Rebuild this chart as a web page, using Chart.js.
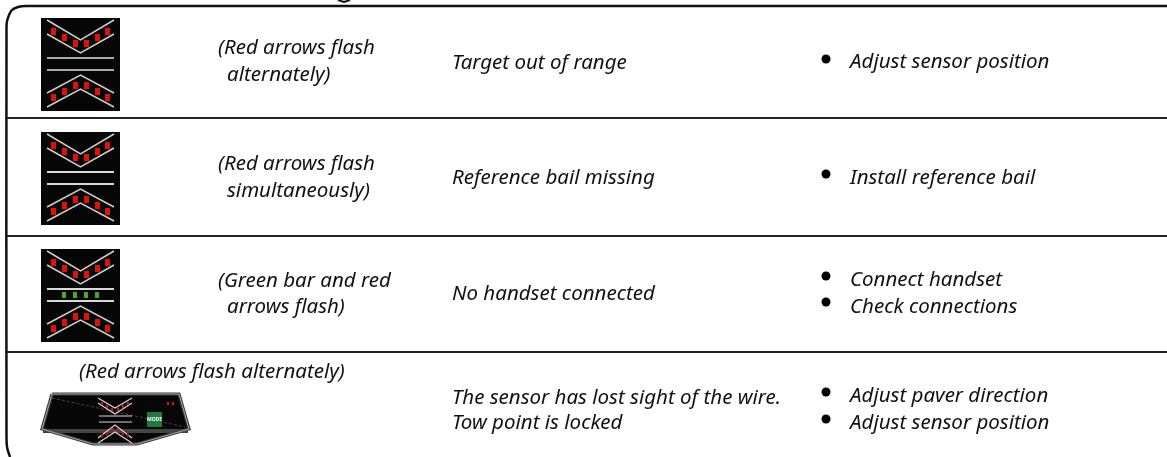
<!DOCTYPE html>
<html>
<head>
<meta charset="utf-8">
<title>Troubleshooting table</title>
<script src="https://cdn.jsdelivr.net/npm/chart.js@4"></script>
<style>
  html, body { margin: 0; padding: 0; background: #fff; overflow: hidden; }
  canvas { display: block; }
</style>
</head>
<body>
<canvas id="table" width="1167" height="457"></canvas>
<script>

const iconTops = [18, 132, 249];
const iconX = [41, 120];
const iconHeight = 93;
const chevronX = [47, 80.5, 114];
const upperOuterY = [2, 22, 2];
const upperInnerY = [16, 35, 16];
const barsX = [47, 114];
const barsY = [40, 52];
const lowerInnerY = [75, 57, 75];
const lowerOuterY = [89, 71, 89];
const arrowX = [53, 64, 75, 86, 97, 107.5];
const upperArrowY = [13, 19, 25, 25, 19, 13];
const lowerArrowY = [79, 73, 67, 67, 73, 79];
const greenX = [64, 75, 86, 97];
const greenY = 46;

const frameX = [10, 7.2, 6.5, 6.5, 7.3, 11.5, 18, 26, 1167];
const frameY = [457, 448, 438, 27, 20, 10.5, 7, 6, 6];
const titleTailX = [338, 344, 350];
const titleTailY = [0, 2, 0];
const ruleY = [118, 236, 352];

const bodyX = [52, 179, 189, 137, 93, 42, 52];
const bodyY = [394, 394, 429, 444, 444, 429, 394];
const bandX = [43, 188];
const bandY = 431;
const wireX = [52, 185];
const wireY = [398, 427];
const smallX = [98, 115, 132];
const smallUpperA = [398, 408, 398];
const smallUpperB = [403, 414, 403];
const smallLowerA = [438, 425, 438];
const smallLowerB = [443, 432, 443];
const smallBarsX = [99, 132];
const smallBarsY = [416, 422];
const smallArrowX = [102, 107, 112, 118, 123, 128];
const smallUpperArrowY = [403, 406, 409, 409, 406, 403];
const smallLowerArrowY = [435, 433, 429, 429, 433, 435];
const ledX = [168, 173];
const ledY = [403, 403];
const buttonX = [147, 162];
const buttonY = [412, 427];

const bulletX = [826, 826, 826, 826, 826, 826];
const bulletY = [59, 174, 276, 302, 392, 419];

const labels = [
  "(Red arrows flash", "alternately)", "Target out of range", "Adjust sensor position",
  "(Red arrows flash", "simultaneously)", "Reference bail missing", "Install reference bail",
  "(Green bar and red", "arrows flash)", "No handset connected", "Connect handset", "Check connections",
  "(Red arrows flash alternately)", "The sensor has lost sight of the wire.", "Tow point is locked",
  "Adjust paver direction", "Adjust sensor position"
];
const labelX = [218, 227, 452, 850, 218, 227, 452, 850, 218, 227, 452, 850, 850, 79, 452, 452, 850, 850];
const labelY = [48, 75, 63, 62, 164, 191, 178, 178, 281, 307, 294, 280, 307, 372, 398, 423, 396, 423];

// HELPERS

const pts = (xs, ys) => xs.map((x, i) => ({ x, y: ys[i] }));
const shift = (ys, top) => ys.map(y => y + top);

function block(w, h, color) {
  const c = document.createElement("canvas");
  c.width = w;
  c.height = h;
  const g = c.getContext("2d");
  g.fillStyle = color;
  g.fillRect(0, 0, w, h);
  return c;
}

function line(data, color, width, extra) {
  return Object.assign({ data, borderColor: color, borderWidth: width, pointRadius: 0, fill: false }, extra);
}

function marks(data, style) {
  return { data, showLine: false, pointStyle: style, pointRadius: 4, borderWidth: 0 };
}

// DATASETS

const datasets = [];

// frame and row rules
datasets.push(line(pts(frameX, frameY), "#111", 2.5, { tension: 0.3 }));
datasets.push(line(pts(titleTailX, titleTailY), "#111", 2));
ruleY.forEach(y => datasets.push(line(pts([7, 1167], [y, y]), "#222", 2)));

// flashing display icons
const redBlock = block(5, 7, "#e21005");
const greenBlock = block(4, 6, "#4ea52a");

iconTops.forEach((top, i) => {
  datasets.push(line(pts(iconX, [top, top]), "#060606", 0, {
    fill: { value: top + iconHeight },
    backgroundColor: "#060606"
  }));
  [upperOuterY, upperInnerY, lowerInnerY, lowerOuterY].forEach(ys => {
    datasets.push(line(pts(chevronX, shift(ys, top)), "#cfcfcf", 1.5));
  });
  barsY.forEach(y => {
    datasets.push(line(pts(barsX, [y + top, y + top]), i === 0 ? "#a8a8a8" : "#d8d8d8", 1.8));
  });
  datasets.push(marks(pts(arrowX, shift(upperArrowY, top)), redBlock));
  datasets.push(marks(pts(arrowX, shift(lowerArrowY, top)), redBlock));
  if (i === 2) {
    datasets.push(marks(greenX.map(x => ({ x, y: greenY + top })), greenBlock));
  }
});

// handset icon
datasets.push(line(pts(bodyX, bodyY), "#3a3a3a", 3.2, { fill: "shape", backgroundColor: "#070707" }));
datasets.push(line(pts(bandX, [bandY, bandY]), "#444", 4));
datasets.push(line(pts(bodyX, bodyY), "#a8a8a8", 1));
datasets.push(line(pts(wireX, wireY), "#555", 0.8, { borderDash: [3, 2] }));
[smallUpperA, smallUpperB, smallLowerA, smallLowerB].forEach(ys => {
  datasets.push(line(pts(smallX, ys), "#d5d5d5", 1.2));
});
smallBarsY.forEach(y => datasets.push(line(pts(smallBarsX, [y, y]), "#d5d5d5", 1)));
const tinyRed = block(2, 3, "#d8150a");
datasets.push(marks(pts(smallArrowX, smallUpperArrowY), tinyRed));
datasets.push(marks(pts(smallArrowX, smallLowerArrowY), tinyRed));
datasets.push(marks(pts(ledX, ledY), tinyRed));
datasets.push(line(pts(buttonX, [buttonY[0], buttonY[0]]), "#1f7a3c", 0, {
  fill: { value: buttonY[1] },
  backgroundColor: "#1f7a3c"
}));

// bullets
datasets.push({
  data: pts(bulletX, bulletY),
  showLine: false,
  pointStyle: "circle",
  pointRadius: 4.5,
  borderWidth: 0,
  backgroundColor: "#000"
});

// first dataset is painted last, so flip to paint in the order pushed
datasets.reverse();

// TEXT PLUGIN

const textPlugin = {
  id: "rowText",
  afterDatasetsDraw(chart) {
    const { ctx, scales } = chart;
    ctx.save();
    ctx.fillStyle = "#111";
    ctx.textBaseline = "middle";
    ctx.font = "italic 20.5px 'Noto Sans'";
    labels.forEach((t, i) => {
      ctx.fillText(t, scales.x.getPixelForValue(labelX[i]), scales.y.getPixelForValue(labelY[i]));
    });
    ctx.fillStyle = "#fff";
    ctx.font = "bold 5px 'Noto Sans'";
    ctx.textAlign = "center";
    ctx.fillText("MODE", scales.x.getPixelForValue(154.5), scales.y.getPixelForValue(419.5));
    ctx.restore();
  }
};

// CHART

new Chart(document.getElementById("table"), {
  type: "line",
  data: { datasets },
  plugins: [textPlugin],
  options: {
    responsive: false,
    animation: false,
    layout: { padding: 0, autoPadding: false },
    plugins: { legend: { display: false }, tooltip: { enabled: false } },
    scales: {
      x: { type: "linear", display: false, min: 0, max: 1167 },
      y: { type: "linear", display: false, reverse: true, min: 0, max: 457 }
    }
  }
});
</script>
</body>
</html>
